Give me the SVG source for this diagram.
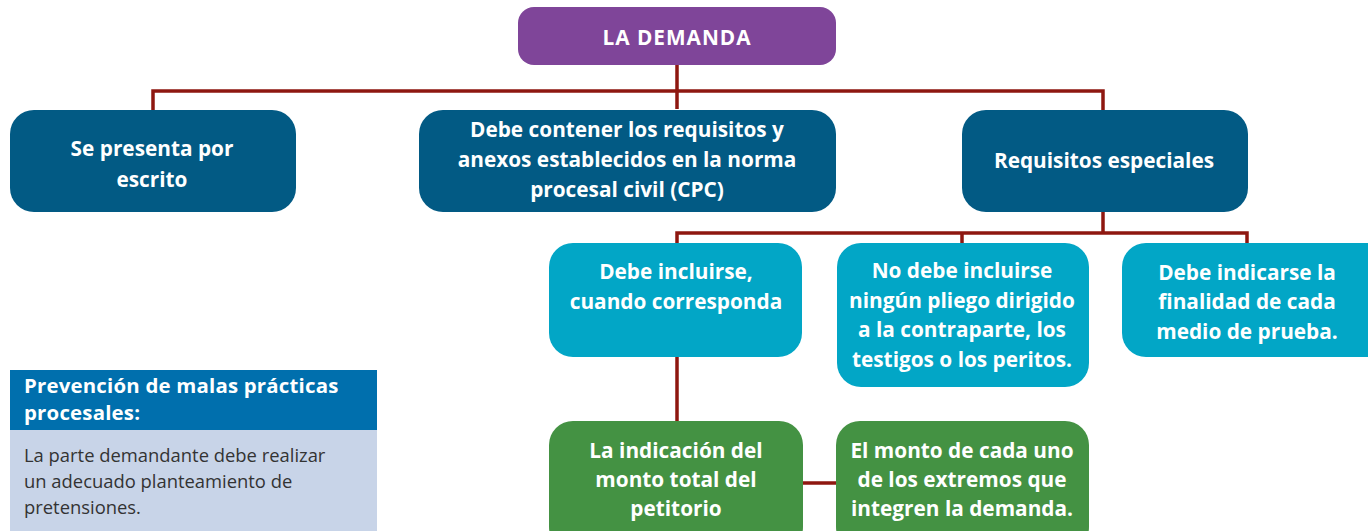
<svg xmlns="http://www.w3.org/2000/svg" width="1368" height="531" viewBox="0 0 1368 531">
<style>
.t{font-family:"Open Sans","Liberation Sans",sans-serif;font-weight:700;fill:#fff;text-anchor:middle;font-size:20.8px}
.c{fill:none;stroke:#8e1710;stroke-width:3.5}
.dark{fill:#025a84}
.light{fill:#02a6c6}
.green{fill:#449243}
.h{font-family:"Open Sans","Liberation Sans",sans-serif;font-weight:700;font-size:20.4px;fill:#fff;letter-spacing:0.2px}
.b{font-family:"Open Sans","Liberation Sans",sans-serif;font-size:18.4px;fill:#333}
</style>
<rect width="1368" height="531" fill="#fff"/>
<g id="connectors">
<path class="c" d="M677 65V109M153 110V91H1103V110"/>
<path class="c" d="M1103 212V233M677 243V233H1247V243M962 233V243"/>
<path class="c" d="M677 357V421M802 483H836"/>
</g>
<g id="n-demanda">
<rect x="518" y="7" width="318" height="58" rx="16" fill="#7f4599"/>
<text class="t" x="677" y="45" font-size="23" letter-spacing="1">LA DEMANDA</text>
</g>
<g id="n-escrito">
<rect class="dark" x="10" y="110" width="286" height="102" rx="24"/>
<text class="t" x="152" y="156">Se presenta por</text>
<text class="t" x="152" y="187">escrito</text>
</g>
<g id="n-requisitos">
<rect class="dark" x="419" y="110" width="417" height="102" rx="24"/>
<text class="t" x="627" y="137">Debe contener los requisitos y</text>
<text class="t" x="627" y="167">anexos establecidos en la norma</text>
<text class="t" x="627" y="197">procesal civil (CPC)</text>
</g>
<g id="n-especiales">
<rect class="dark" x="962" y="110" width="286" height="102" rx="24"/>
<text class="t" x="1104" y="168">Requisitos especiales</text>
</g>
<g id="n-incluirse">
<rect class="light" x="549" y="243" width="253" height="114" rx="24"/>
<text class="t" x="676" y="279">Debe incluirse,</text>
<text class="t" x="676" y="309">cuando corresponda</text>
</g>
<g id="n-pliego">
<rect class="light" x="837" y="243" width="252" height="144" rx="24"/>
<text class="t" x="962" y="278">No debe incluirse</text>
<text class="t" x="962" y="308">ningún pliego dirigido</text>
<text class="t" x="962" y="337">a la contraparte, los</text>
<text class="t" x="962" y="367">testigos o los peritos.</text>
</g>
<g id="n-finalidad">
<rect class="light" x="1122" y="243" width="270" height="114" rx="24"/>
<text class="t" x="1247" y="280">Debe indicarse la</text>
<text class="t" x="1247" y="309">finalidad de cada</text>
<text class="t" x="1247" y="339">medio de prueba.</text>
</g>
<g id="n-monto-total">
<rect class="green" x="549" y="421" width="254" height="130" rx="24"/>
<text class="t" x="676" y="458">La indicación del</text>
<text class="t" x="676" y="487">monto total del</text>
<text class="t" x="676" y="516">petitorio</text>
</g>
<g id="n-monto-cada">
<rect class="green" x="836" y="421" width="253" height="130" rx="24"/>
<text class="t" x="962" y="458">El monto de cada uno</text>
<text class="t" x="962" y="487">de los extremos que</text>
<text class="t" x="962" y="516">integren la demanda.</text>
</g>
<g id="info-box">
<rect x="10" y="370" width="367" height="60" fill="#006fad"/>
<rect x="10" y="430" width="367" height="101" fill="#c8d4e8"/>
<text class="h" x="24" y="393">Prevención de malas prácticas</text>
<text class="h" x="24" y="420">procesales:</text>
<text class="b" x="24" y="462">La parte demandante debe realizar</text>
<text class="b" x="24" y="488">un adecuado planteamiento de</text>
<text class="b" x="24" y="514">pretensiones.</text>
</g>
</svg>
